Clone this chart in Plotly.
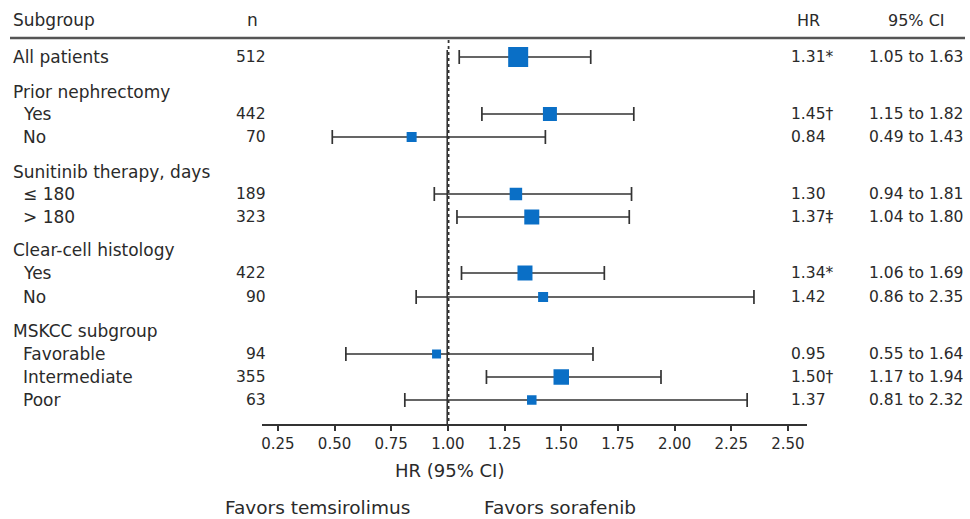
import plotly.graph_objects as go

# ---- data ----
labels = ["All patients", "Prior nephrectomy", "Yes", "No",
          "Sunitinib therapy, days", "≤ 180", "> 180",
          "Clear-cell histology", "Yes", "No",
          "MSKCC subgroup", "Favorable", "Intermediate", "Poor"]
is_sub = [False, False, True, True, False, True, True, False, True, True,
          False, True, True, True]
n_values = ["512", "", "442", "70", "", "189", "323", "", "422", "90", "", "94", "355", "63"]
hr = [1.31, None, 1.45, 0.84, None, 1.30, 1.37, None, 1.34, 1.42, None, 0.95, 1.50, 1.37]
ci_low = [1.05, None, 1.15, 0.49, None, 0.94, 1.04, None, 1.06, 0.86, None, 0.55, 1.17, 0.81]
ci_high = [1.63, None, 1.82, 1.43, None, 1.81, 1.80, None, 1.69, 2.35, None, 1.64, 1.94, 2.32]
hr_text = ["1.31*", "", "1.45†", "0.84", "", "1.30", "1.37‡", "", "1.34*", "1.42", "", "0.95", "1.50†", "1.37"]
tick_vals = [0.25, 0.50, 0.75, 1.00, 1.25, 1.50, 1.75, 2.00, 2.25, 2.50]

# ---- style / layout ----
row_y = [57, 92, 114, 137, 172, 194, 217, 250, 273, 297, 331, 354, 377, 400]
marker_sizes = [20, None, 14, 10, None, 12.5, 15, None, 15, 10, None, 9, 15.5, 9.5]
W, H = 970, 519
FONT = "DejaVu Sans"
TXT = "#2a2a2a"
BLUE = "#0a6fc6"

pts = [i for i, v in enumerate(hr) if v is not None]
fig = go.Figure()
fig.add_trace(go.Scatter(
    x=[hr[i] for i in pts], y=[row_y[i] for i in pts], mode="markers",
    marker=dict(symbol="square", size=[marker_sizes[i] for i in pts], color=BLUE,
                opacity=1, line=dict(width=0)),
    opacity=1,
    error_x=dict(type="data", symmetric=False,
                 array=[ci_high[i] - hr[i] for i in pts],
                 arrayminus=[hr[i] - ci_low[i] for i in pts],
                 color="#333333", thickness=1.7, width=7),
    showlegend=False, hoverinfo="skip"))

ann = []
def txt(x, y, s, size=17, xanchor="left"):
    ann.append(dict(x=x / W, y=1 - y / H, xref="paper", yref="paper", text=s,
                    showarrow=False, xanchor=xanchor, yanchor="middle",
                    font=dict(family=FONT, size=size, color=TXT)))

# headers
txt(11, 20, "Subgroup", 17)
txt(252, 20, "n", 17, "center")
txt(795, 20, "HR", 16)
txt(916, 20, "95% CI", 16, "center")

for i, lab in enumerate(labels):
    y = row_y[i]
    txt(21 if is_sub[i] else 11, y, lab, 17)
    if n_values[i]:
        txt(268, y, n_values[i], 15.5, "right")
    if hr_text[i]:
        txt(789, y, hr_text[i], 15.5)
        txt(965, y, f"{ci_low[i]:.2f} to {ci_high[i]:.2f}", 15.5, "right")

txt(449, 470, "HR (95% CI)", 18, "center")
txt(317, 507, "Favors temsirolimus", 18.5, "center")
txt(560, 507, "Favors sorafenib", 18.5, "center")

shapes = [
    dict(type="line", xref="paper", yref="y", x0=10 / W, x1=965 / W, y0=38, y1=38,
         line=dict(color="#555555", width=2.5)),
    dict(type="line", xref="x", yref="y", x0=0.997, x1=0.997, y0=50, y1=424,
         line=dict(color="#333333", width=1.6)),
    dict(type="line", xref="x", yref="y", x0=1.003, x1=1.003, y0=40, y1=424,
         line=dict(color="#333333", width=1.8, dash="dot")),
]

fig.update_layout(
    width=W, height=H, margin=dict(l=0, r=0, t=0, b=0),
    paper_bgcolor="white", plot_bgcolor="white",
    annotations=ann, shapes=shapes,
    xaxis=dict(domain=[262 / W, 807 / W], range=[0.18, 2.584],
               tickvals=tick_vals, tickformat=".2f",
               showline=True, linecolor="#333333", linewidth=1.6,
               ticks="outside", ticklen=5, tickwidth=1.6, tickcolor="#333333",
               tickfont=dict(family=FONT, size=15, color=TXT),
               showgrid=False, zeroline=False, fixedrange=True),
    yaxis=dict(domain=[(H - 424) / H, 1], range=[424, 0], visible=False,
               fixedrange=True),
)

fig.write_html("out.html", config={"displayModeBar": False},
               post_script="document.body.style.margin='0';document.body.style.padding='0';")
